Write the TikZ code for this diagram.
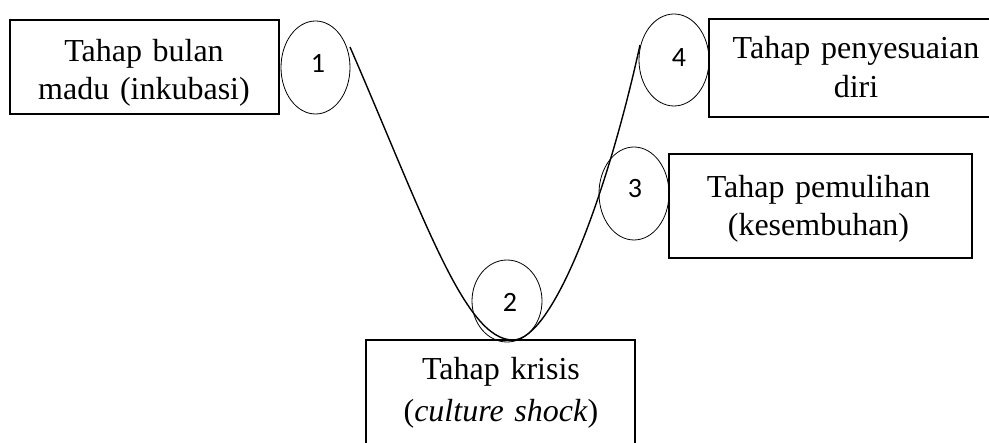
\documentclass[tikz,border=0pt]{standalone}
\usepackage{fontspec}
\setmainfont{Liberation Serif}
\newfontfamily\numfont{Carlito}
\usetikzlibrary{shapes.geometric}
\begin{document}
\begin{tikzpicture}[x=1pt,y=-1pt,
  stagebox/.style={draw, line width=1.8pt, inner sep=0pt, rectangle},
  stagetext/.style={align=center, text width=320pt, inner sep=0pt, anchor=base},
  numell/.style={draw, ellipse, line width=0.8pt, inner sep=0pt},
  numtext/.style={inner sep=0pt, font=\numfont\fontsize{28}{32}\selectfont},
  ucurve/.style={line width=1.4pt}]
\useasboundingbox (0,0) rectangle (989,443);
% boxes
\node[stagebox, minimum width=269pt, minimum height=94pt] (b1) at (144.5,67) {};
\node[stagebox, minimum width=300pt, minimum height=98pt] (b4) at (859,68) {};
\node[stagebox, minimum width=303pt, minimum height=104pt] (b3) at (820.5,206) {};
\node[stagebox, minimum width=269pt, minimum height=110pt] (b2) at (500.5,395) {};
% texts
\node[stagetext, font=\fontsize{32}{38}\selectfont] (t1) at (144,62) {Tahap bulan\\madu (inkubasi)};
\node[stagetext, font=\fontsize{32}{39}\selectfont] (t4) at (856,59) {Tahap penyesuaian\\diri};
\node[stagetext, font=\fontsize{32}{38}\selectfont] (t3) at (818.5,198) {Tahap pemulihan\\(kesembuhan)};
\node[stagetext, font=\fontsize{32}{42}\selectfont] (t2) at (501,380) {Tahap krisis\\(\textit{culture shock})};
% ellipses
\node[numell, minimum width=69pt, minimum height=93pt] (e1) at (315.5,67.5) {};
\node[numell, minimum width=70pt, minimum height=92pt] (e4) at (674,60) {};
\node[numell, minimum width=70pt, minimum height=93pt] (e3) at (634,193.5) {};
\node[numell, minimum width=70pt, minimum height=82pt] (e2) at (507,301) {};
\node[numtext] (n1) at (318,63) {1};
\node[numtext] (n4) at (679,58) {4};
\node[numtext] (n3) at (635,189) {3};
\node[numtext] (n2) at (510,302) {2};
% curve
\coordinate (c1) at (350,47);
\coordinate (c2) at (513,340);
\coordinate (c4) at (640,45);
\draw[ucurve] (c1) .. controls (425,220) and (465,340) .. (c2)
  .. controls (552,340) and (606,200) .. (c4);
\end{tikzpicture}
\end{document}
